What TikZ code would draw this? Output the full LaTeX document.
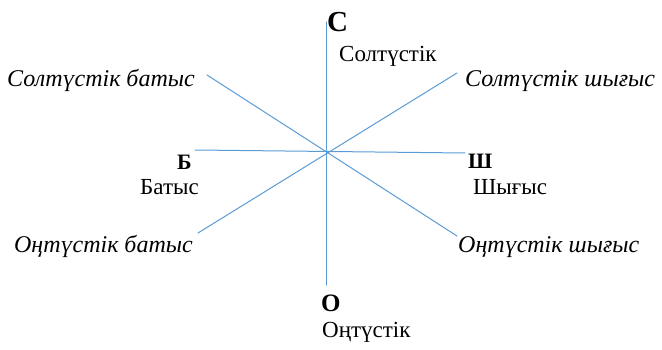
\documentclass[tikz,border=0pt]{standalone}
\usepackage{fontspec}
\setmainfont{Liberation Serif}
\usepackage{xcolor}

\definecolor{lineblue}{RGB}{91,155,213}

\begin{document}
\begin{tikzpicture}[x=1pt, y=-1pt, line cap=round, line join=round,
    dirline/.style={lineblue, line width=1pt},
    lbl/.style={inner sep=0pt, font=\fontsize{23}{27}\selectfont},
    ilbl/.style={inner sep=0pt, font=\fontsize{24}{28}\selectfont\itshape},
    letter/.style={inner sep=0pt, font=\bfseries}]

  % ---- Frame ----
  \useasboundingbox (0,0) rectangle (662,350);

  % ---- End points of the lines ----
  \coordinate (top) at (326,22);
  \coordinate (bot) at (326,285);
  \coordinate (lft) at (195,150);
  \coordinate (rgt) at (465,153);
  \coordinate (nw)  at (207,75);
  \coordinate (se)  at (457,236);
  \coordinate (ne)  at (457,73);
  \coordinate (sw)  at (198,233);

  % ---- Lines ----
  \draw[dirline] (top) -- (bot);
  \draw[dirline] (lft) -- (rgt);
  \draw[dirline] (nw) -- (se);
  \draw[dirline] (ne) -- (sw);

  % ---- North ----
  \node[letter, font=\fontsize{29}{33}\selectfont\bfseries, anchor=base west] (nN) at (327,32) {С};
  \node[lbl, anchor=base west] (nNtxt) at (339,62) {Солтүстік};

  % ---- West ----
  \node[letter, font=\fontsize{22}{26}\selectfont\bfseries, anchor=base west] (nW) at (177,170) {Б};
  \node[lbl, anchor=base west] (nWtxt) at (140,195) {Батыс};

  % ---- East ----
  \node[letter, font=\fontsize{22}{26}\selectfont\bfseries, anchor=base west] (nE) at (468,169) {Ш};
  \node[lbl, anchor=base west] (nEtxt) at (473,195) {Шығыс};

  % ---- South ----
  \node[letter, font=\fontsize{25}{29}\selectfont\bfseries, anchor=base west] (nS) at (321,311) {О};
  \node[lbl, anchor=base west] (nStxt) at (322,337) {Оңтүстік};

  % ---- Intermediate directions ----
  \node[ilbl, anchor=base east] (nNW) at (195,87)  {Солтүстік батыс};
  \node[ilbl, anchor=base west] (nNE) at (465,87)  {Солтүстік шығыс};
  \node[ilbl, anchor=base east] (nSW) at (193,253) {Оңтүстік батыс};
  \node[ilbl, anchor=base west] (nSE) at (458,253) {Оңтүстік шығыс};

\end{tikzpicture}
\end{document}
